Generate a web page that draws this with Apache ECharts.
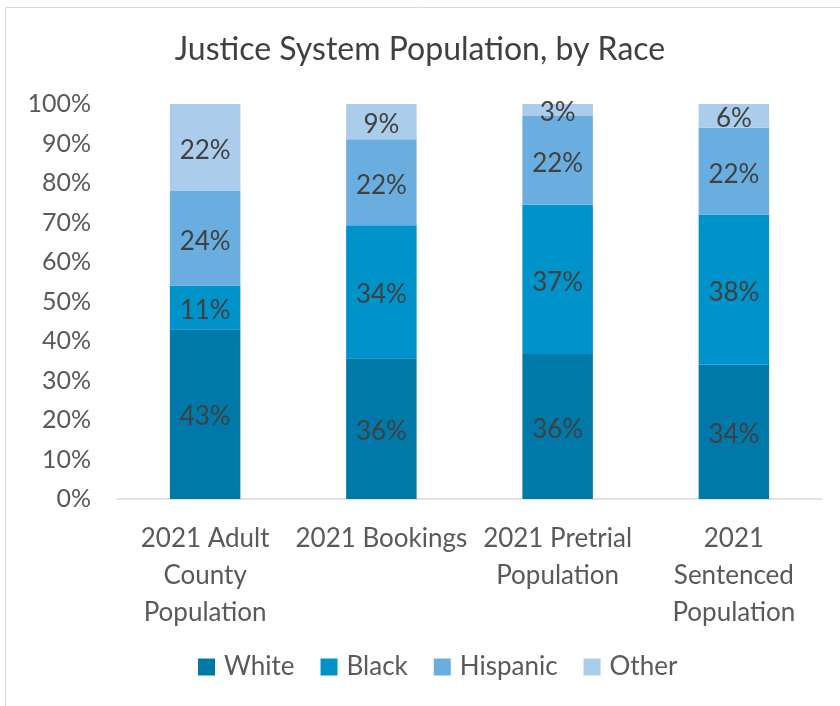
<!DOCTYPE html>
<html>
<head>
<meta charset="utf-8">
<script src="https://cdn.jsdelivr.net/npm/echarts@6/dist/echarts.min.js"></script>
<style>
  html, body { margin: 0; padding: 0; background: #fff; }
  #chart { width: 840px; height: 706px; }
</style>
</head>
<body>
<div id="chart"></div>
<script>
// categories (line breaks as in the picture)
const categories = ['2021 Adult\nCounty\nPopulation', '2021 Bookings', '2021 Pretrial\nPopulation', '2021\nSentenced\nPopulation'];
// shares as printed on the bars (%)
const white = [43, 36, 36, 34];
const black = [11, 34, 37, 38];
const hispanic = [24, 22, 22, 22];
const other = [22, 9, 3, 6];
const seriesNames = ['White', 'Black', 'Hispanic', 'Other'];
const colors = ['#0179a8', '#0093c9', '#6aaee0', '#abcdeb'];

const raw = [white, black, hispanic, other];
// 100% stacked: each column scaled to its own total
const totals = categories.map((c, i) => raw.reduce((s, arr) => s + arr[i], 0));

const myChart = echarts.init(document.getElementById('chart'));
const font = 'Lato, "Open Sans", sans-serif';

const option = {
  backgroundColor: '#fff',
  textStyle: { fontFamily: font },
  graphic: [{
    type: 'rect',
    shape: { x: 5.5, y: 7.5, width: 900, height: 760 },
    style: { fill: 'none', stroke: '#d9d9d9', lineWidth: 1 },
    silent: true
  }],
  title: {
    text: 'Justice System Population, by Race',
    left: 'center',
    top: 29,
    textStyle: { fontFamily: font, fontSize: 32, fontWeight: 'normal', color: '#404040' }
  },
  legend: {
    data: seriesNames,
    bottom: 21,
    left: 193,
    itemWidth: 17,
    itemHeight: 17,
    itemGap: 26,
    icon: 'rect',
    textStyle: { fontFamily: font, fontSize: 26, color: '#595959', padding: [0, 0, 0, 4] }
  },
  grid: { left: 117, right: 18, top: 104, bottom: 207 },
  xAxis: {
    type: 'category',
    data: categories,
    axisLine: { lineStyle: { color: '#d9d9d9', width: 1.5 } },
    axisTick: { show: false },
    axisLabel: {
      interval: 0,
      margin: 21,
      fontSize: 26,
      lineHeight: 37,
      color: '#595959',
      fontFamily: font
    }
  },
  yAxis: {
    type: 'value',
    min: 0,
    max: 100,
    interval: 10,
    splitLine: { show: false },
    axisLine: { show: false },
    axisTick: { show: false },
    axisLabel: {
      formatter: '{value}%',
      fontSize: 25,
      margin: 26,
      color: '#595959',
      fontFamily: font
    }
  },
  series: raw.map((arr, k) => ({
    name: seriesNames[k],
    type: 'bar',
    stack: 'race',
    barWidth: '40%',
    itemStyle: { color: colors[k] },
    label: {
      show: true,
      position: 'inside',
      offset: [0, 3],
      fontSize: 26,
      color: '#404040',
      fontFamily: font,
      formatter: (p) => arr[p.dataIndex] + '%'
    },
    data: arr.map((v, i) => v / totals[i] * 100)
  }))
};

myChart.setOption(option);
</script>
</body>
</html>
